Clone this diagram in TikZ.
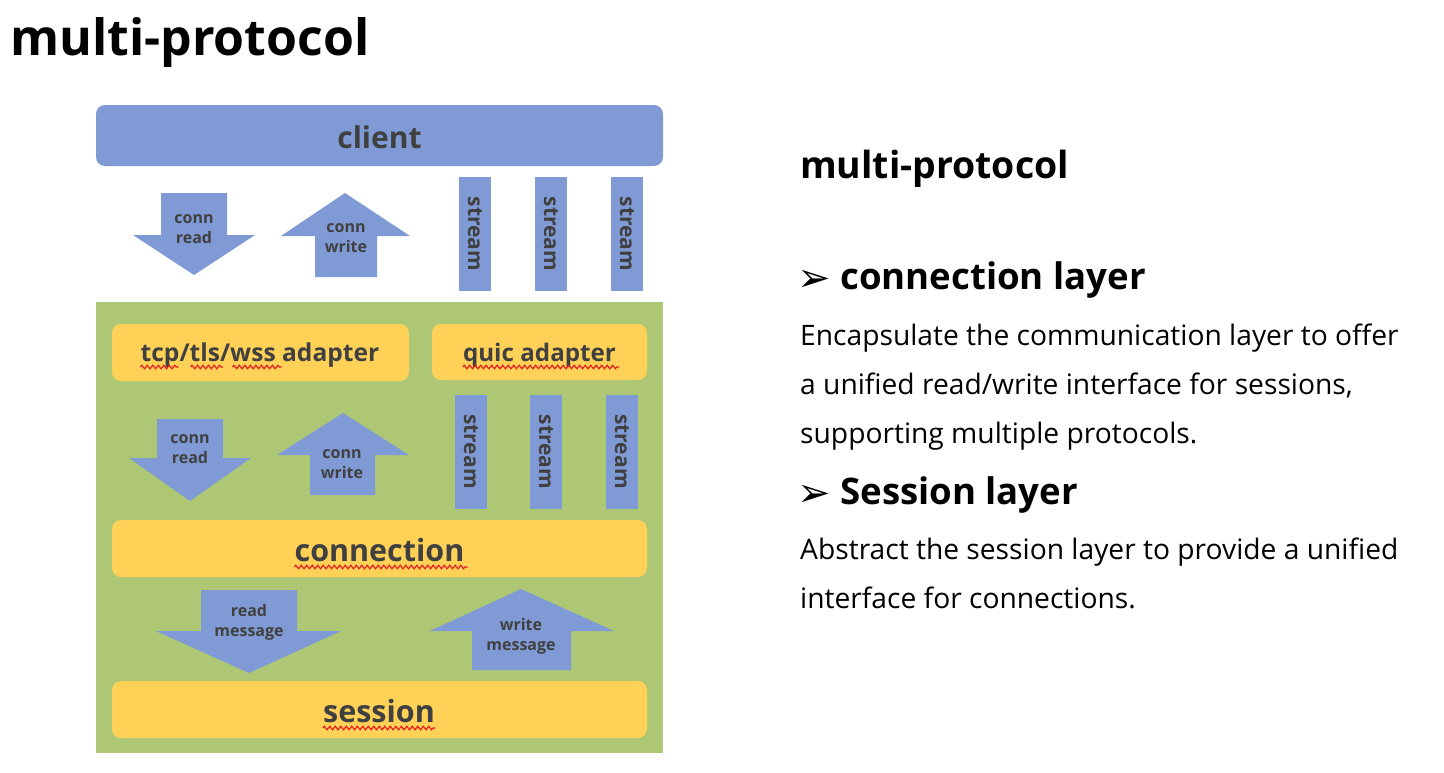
\documentclass[tikz,border=0pt]{standalone}
\usepackage{fontspec}
\setmainfont{Open Sans}
\newfontfamily\symf{DejaVu Sans}
\usetikzlibrary{decorations.pathmorphing,calc}
\definecolor{cblue}{HTML}{7F9AD5}
\definecolor{cgreen}{HTML}{ADC775}
\definecolor{cyellow}{HTML}{FFD257}
\definecolor{cgray}{HTML}{404040}
\definecolor{csq}{HTML}{E8141E}
\newcommand{\fs}[1]{\fontsize{#1}{#1}\selectfont}
\begin{document}
\begin{tikzpicture}[x=1pt,y=-1pt,
  bbox/.style={fill=cblue, draw=none, inner sep=0},
  ybox/.style={fill=cyellow, draw=none, rounded corners=9pt, inner sep=0},
  lab/.style={text=cgray, font=\bfseries\fs{#1}, inner sep=0},
  alab/.style={text=cgray, font=\bfseries\fontsize{16}{20}\selectfont, align=center, inner sep=0},
  stm/.style={bbox, rotate=-90, minimum width=114, minimum height=32, text=cgray, font=\bfseries\fs{21}},
  arr/.style={fill=cblue, draw=none},
  squig/.style={draw=csq, line width=1.1pt, decorate, decoration={zigzag, segment length=5.5pt, amplitude=1.8pt}},
  rt/.style={anchor=base west, inner sep=0, font=\fs{#1}},
  rtb/.style={anchor=base west, inner sep=0, font=\bfseries\fs{#1}},
  bul/.style={anchor=base west, inner sep=0, font=\symf\fs{40}}
]
\useasboundingbox (0,0) rectangle (1444,772);
\fill[white] (0,0) rectangle (1444,772);

% title
\node[rtb=50] (title) at (10,55) {multi-protocol};

% client
\node[bbox, rounded corners=9pt, minimum width=567, minimum height=61] (client) at (379.5,135.5) {};
\node[lab=30] (tclient) at (379.5,137) {client};

% top arrows
\path[arr] (161,193) -- (227,193) -- (227,235) -- (255,235) -- (194,275) -- (133,235) -- (161,235) -- cycle;
\node[alab] (cr1) at (194,229) {conn\\read};
\path[arr] (345,193) -- (410,236) -- (377,236) -- (377,277) -- (315,277) -- (315,236) -- (281,236) -- cycle;
\node[alab] (cw1) at (346,238) {conn\\write};

% top streams
\node[stm] (s1) at (475,234) {stream};
\node[stm] (s2) at (551,234) {stream};
\node[stm] (s3) at (627,234) {stream};

% green layer
\node[fill=cgreen, draw=none, minimum width=567, minimum height=451, inner sep=0] (layer) at (379.5,527.5) {};

% adapters
\node[ybox, minimum width=297, minimum height=57] (tcp) at (260.5,352.5) {};
\node[lab=24.6, anchor=base] (ttcp) at (260,361) {tcp/tls/wss adapter};
\node[ybox, minimum width=215, minimum height=56] (quic) at (539.5,352) {};
\node[lab=24.2, anchor=base] (tquic) at (539.5,361) {quic adapter};

% inner arrows
\path[arr] (157,419) -- (223,419) -- (223,458) -- (251,458) -- (190,501) -- (129,458) -- (157,458) -- cycle;
\node[alab] (cr2) at (190,449) {conn\\read};
\path[arr] (343,413) -- (409,455) -- (375,455) -- (375,495) -- (310,495) -- (310,455) -- (277,455) -- cycle;
\node[alab] (cw2) at (342,464) {conn\\write};

% inner streams
\node[stm] (s4) at (471,451.5) {stream};
\node[stm] (s5) at (546,452) {stream};
\node[stm] (s6) at (622,451.5) {stream};

% connection
\node[ybox, minimum width=535, minimum height=57] (conn) at (379.5,548.5) {};
\node[lab=30.5, anchor=base] (tconn) at (379.5,561) {connection};

% message arrows
\path[arr] (201,590) -- (297,590) -- (297,631) -- (341,631) -- (249,673) -- (156,631) -- (201,631) -- cycle;
\node[alab] (rm) at (249,622) {read\\message};
\path[arr] (521,589) -- (614,631) -- (571,631) -- (571,670) -- (472,670) -- (472,631) -- (430,631) -- cycle;
\node[alab] (wm) at (521,636) {write\\message};

% session
\node[ybox, minimum width=535, minimum height=57] (sess) at (379.5,709.5) {};
\node[lab=30.5, anchor=base] (tsess) at (379,722) {session};

% squiggles
\draw[squig] ([yshift=-6pt]$(ttcp.base west)!0!(ttcp.base east)$) -- ([yshift=-6pt]$(ttcp.base west)!0.16!(ttcp.base east)$);
\draw[squig] ([yshift=-6pt]$(ttcp.base west)!0.21!(ttcp.base east)$) -- ([yshift=-6pt]$(ttcp.base west)!0.345!(ttcp.base east)$);
\draw[squig] ([yshift=-6pt]$(ttcp.base west)!0.385!(ttcp.base east)$) -- ([yshift=-6pt]$(ttcp.base west)!0.59!(ttcp.base east)$);
\draw[squig] ([yshift=-6pt]tquic.base west) -- ([yshift=-6pt,xshift=3pt]tquic.base east);
\draw[squig] ([yshift=-6pt]tconn.base west) -- ([yshift=-6pt,xshift=3pt]tconn.base east);
\draw[squig] ([yshift=-6pt]tsess.base west) -- ([yshift=-6pt]tsess.base east);

% right text
\node[rtb=37.4] (rtitle) at (800,178) {multi-protocol};
\node[bul] (b1) at (797,291) {➢};
\node[rtb=36.6] (h1) at (840,289) {connection layer};
\node[rt=28.2] (p1) at (800,345) {Encapsulate the communication layer to offer};
\node[rt=28.2] (p2) at (800,394) {a unified read/write interface for sessions,};
\node[rt=28.2] (p3) at (800,443) {supporting multiple protocols.};
\node[bul] (b2) at (797,506) {➢};
\node[rtb=36.6] (h2) at (840,504) {Session layer};
\node[rt=28.2] (p4) at (800,559) {Abstract the session layer to provide a unified};
\node[rt=28.2] (p5) at (800,608) {interface for connections.};
\end{tikzpicture}
\end{document}
